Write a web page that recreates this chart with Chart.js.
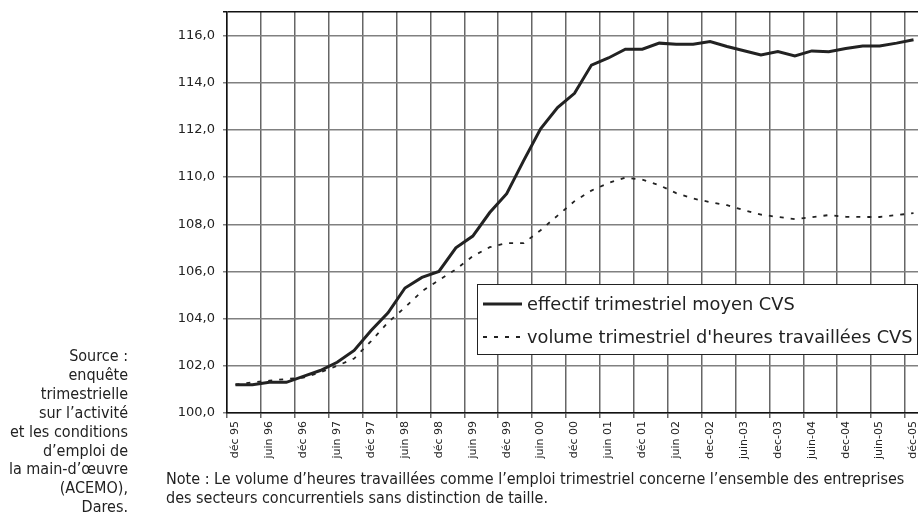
<!DOCTYPE html>
<html>
<head>
<meta charset="utf-8">
<script src="https://cdn.jsdelivr.net/npm/chart.js@4"></script>
<style>
  html, body { margin: 0; padding: 0; width: 918px; height: 515px; overflow: hidden; background: #fff; }
  #wrap { position: absolute; left: 0; top: 0; width: 930px; height: 515px; }
  .txt { position: absolute; font-family: "DejaVu Sans Condensed", "DejaVu Sans", sans-serif; font-size: 16px; color: #222; }
  #source { left: 0; top: 347px; width: 128px; text-align: right; line-height: 18.9px; }
  #note { left: 166px; top: 470px; line-height: 18.5px; white-space: nowrap; }
</style>
</head>
<body>
<div id="wrap"><canvas id="chart" width="930" height="515"></canvas></div>
<div class="txt" id="source">Source :<br>enquête<br>trimestrielle<br>sur l’activité<br>et les conditions<br>d’emploi de<br>la main-d’œuvre<br>(ACEMO),<br>Dares.</div>
<div class="txt" id="note">Note : Le volume d’heures travaillées comme l’emploi trimestriel concerne l’ensemble des entreprises<br>des secteurs concurrentiels sans distinction de taille.</div>
<script>
// quarters, déc 95 -> déc 05 (only every second one is labelled)
const quarters = [
  "déc 95", "mars 96", "juin 96", "sept 96", "déc 96", "mars 97", "juin 97", "sept 97",
  "déc 97", "mars 98", "juin 98", "sept 98", "déc 98", "mars 99", "juin 99", "sept 99",
  "déc 99", "mars 00", "juin 00", "sept 00", "déc 00", "mars 01", "juin 01", "sept 01",
  "déc 01", "mars 02", "juin 02", "sept 02", "dec-02", "mars-03", "juin-03", "sept-03",
  "dec-03", "mars-04", "juin-04", "sept-04", "dec-04", "mars-05", "juin-05", "sept-05",
  "déc-05"
];

const effectif = [
  101.2, 101.2, 101.3, 101.3, 101.55, 101.8, 102.15, 102.65, 103.5, 104.25,
  105.3, 105.75, 106.0, 107.0, 107.5, 108.5, 109.3, 110.7, 112.05, 112.95,
  113.55, 114.75, 115.05, 115.42, 115.42, 115.68, 115.63, 115.63, 115.75, 115.54,
  115.36, 115.18, 115.32, 115.14, 115.35, 115.32, 115.45, 115.56, 115.56, 115.68,
  115.82
];

const volume = [
  101.2, 101.3, 101.37, 101.44, 101.5, 101.72, 102.0, 102.31, 103.05, 103.84,
  104.48, 105.16, 105.63, 106.09, 106.65, 107.03, 107.2, 107.2, 107.75, 108.37,
  108.98, 109.43, 109.75, 109.98, 109.89, 109.66, 109.32, 109.09, 108.94, 108.81,
  108.6, 108.41, 108.31, 108.22, 108.3, 108.39, 108.32, 108.31, 108.31, 108.39,
  108.47
];

const yMin = 100, yMax = 117, yStep = 2;

const lineDash = [4, 7];

// legend box drawn inside the plot, bottom right
const boxLegend = {
  id: "boxLegend",
  afterDraw(chart) {
    const c = chart.ctx;
    const x = 477.5, y = 284.5, w = 440, h = 70;
    c.save();
    c.fillStyle = "#fff";
    c.fillRect(x, y, w, h);
    c.strokeStyle = "#222";
    c.lineWidth = 1;
    c.strokeRect(x, y, w, h);
    c.font = "17.8px 'DejaVu Sans'";
    c.fillStyle = "#222";
    c.textBaseline = "middle";
    chart.data.datasets.forEach((ds, i) => {
      const ly = 304 + i * 33;
      c.beginPath();
      c.setLineDash(ds.borderDash || []);
      c.lineWidth = ds.borderWidth;
      c.strokeStyle = ds.borderColor;
      c.moveTo(483, ly);
      c.lineTo(522, ly);
      c.stroke();
      c.setLineDash([]);
      c.fillText(ds.label, 527, ly + 1);
    });
    c.restore();
  }
};

const ctx = document.getElementById("chart").getContext("2d");
new Chart(ctx, {
  type: "line",
  data: {
    labels: quarters,
    datasets: [
      {
        label: "effectif trimestriel moyen CVS",
        data: effectif,
        borderColor: "#222",
        borderWidth: 3,
        pointRadius: 0,
        tension: 0,
      },
      {
        label: "volume trimestriel d'heures travaillées CVS",
        data: volume,
        borderColor: "#222",
        borderWidth: 1.8,
        borderDash: lineDash,
        pointRadius: 0,
        tension: 0,
      },
    ],
  },
  options: {
    responsive: false,
    animation: false,
    layout: { padding: { left: 160, top: 12, right: 8, bottom: 0 } },
    plugins: { legend: { display: false }, tooltip: { enabled: false } },
    scales: {
      x: {
        offset: true,
        afterFit(scale) { scale.height = 102; },
        grid: {
          offset: true,
          color: (c) => (c.index % 2 === 0 ? "#666" : "rgba(0,0,0,0)"),
          lineWidth: 1.5,
          tickLength: 5,
        },
        border: { color: "#111", width: 1.5 },
        ticks: {
          autoSkip: false,
          minRotation: 90,
          maxRotation: 90,
          padding: 3,
          color: "#222",
          font: { family: "DejaVu Sans", size: 11 },
          callback: (v, i) => (i % 2 === 0 ? quarters[i] : ""),
        },
      },
      y: {
        min: yMin,
        max: yMax,
        afterFit(scale) {
          scale.width = 67;
          scale.paddingTop = 0;
          scale.paddingBottom = 0;
        },
        grid: {
          color: (c) => (c.tick && c.tick.value === yMax ? "#111" : "#808080"),
          lineWidth: 1.5,
          tickLength: 4,
        },
        border: { color: "#111", width: 1.5 },
        ticks: {
          stepSize: yStep,
          padding: 8,
          color: "#222",
          font: { family: "DejaVu Sans", size: 13 },
          callback: (v) => (v === yMax ? "" : v.toFixed(1).replace(".", ",")),
        },
      },
    },
  },
  plugins: [boxLegend],
});
</script>
</body>
</html>
